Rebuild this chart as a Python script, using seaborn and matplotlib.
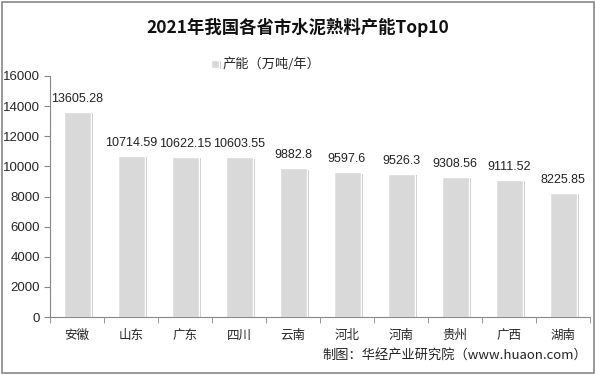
import matplotlib
matplotlib.use("Agg")
import matplotlib.pyplot as plt
import matplotlib.patheffects as pe
from matplotlib.patches import Rectangle
import seaborn as sns
import pandas as pd

provinces = ["安徽", "山东", "广东", "四川", "云南", "河北", "河南", "贵州", "广西", "湖南"]
capacity = [13605.28, 10714.59, 10622.15, 10603.55, 9882.8, 9597.6, 9526.3, 9308.56, 9111.52, 8225.85]
value_labels = ["13605.28", "10714.59", "10622.15", "10603.55", "9882.8", "9597.6", "9526.3", "9308.56", "9111.52", "8225.85"]
yticks = [0, 2000, 4000, 6000, 8000, 10000, 12000, 14000, 16000]
title = "2021年我国各省市水泥熟料产能Top10"
legend_label = "产能（万吨/年）"
source = "制图：华经产业研究院（www.huaon.com）"

sns.set_style("white")
plt.rcParams['font.family'] = ['Noto Sans CJK SC', 'DejaVu Sans']

df = pd.DataFrame({"province": provinces, "capacity": capacity})

fig = plt.figure(figsize=(5.96, 3.75), dpi=100)
ax = fig.add_axes([50/596, 1 - 317/375, 540/596, 241/375])

sns.barplot(data=df, x="province", y="capacity", color="#d9d9d9", width=0.5,
            saturation=1, ax=ax, label=legend_label)
for p in ax.patches:
    p.set_path_effects([pe.SimplePatchShadow(offset=(1.5, -1), shadow_rgbFace="#b0b0b0", alpha=0.7), pe.Normal()])

for i, (v, lab) in enumerate(zip(capacity, value_labels)):
    ax.annotate(lab, (i, v), xytext=(0, 5), textcoords="offset points",
                ha="center", va="bottom", fontsize=9, color="#222222",
                family=['Liberation Sans'])

ax.set_ylim(0, 16000)
ax.set_yticks(yticks)
ax.set_yticklabels([str(t) for t in yticks], fontsize=9.5, family=['Liberation Sans'])
ax.set_xlim(-0.5, 9.5)
ax.set_xticks(range(10))
ax.set_xticklabels(provinces, fontsize=9)
ax.set_xlabel("")
ax.set_ylabel("")
for s in ["top", "right"]:
    ax.spines[s].set_visible(False)
for s in ["left", "bottom"]:
    ax.spines[s].set_color("#888888")
    ax.spines[s].set_linewidth(0.8)
ax.tick_params(axis="y", left=True, length=4, color="#888888", pad=3)
ax.tick_params(axis="x", bottom=False, pad=5)
ax.set_xticks([i + 0.5 for i in range(-1, 10)], minor=True)
ax.tick_params(axis="x", which="minor", bottom=True, length=4, color="#888888")

ax.legend(loc="upper center", bbox_to_anchor=(0.4, 1.125), frameon=False,
          fontsize=9.5, handlelength=0.6, handleheight=0.6, handletextpad=0.3)

fig.text(0.5, 1 - 27/375, title, ha="center", va="center", fontsize=12.5, fontweight="bold", color="#111111")
fig.text(0.985, 1 - 355/375, source, ha="right", va="center", fontsize=9.5, color="#222222")

fig.patches.append(Rectangle((0.004, 0.006), 0.992, 0.988, transform=fig.transFigure,
                             fill=False, edgecolor="#888888", linewidth=1.2))

fig.savefig("out.png", dpi=100)
